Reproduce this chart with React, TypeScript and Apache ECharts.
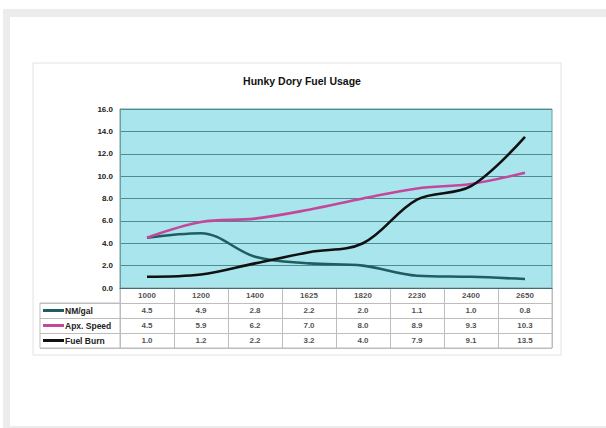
import React, { useEffect, useRef } from "react";
import * as echarts from "echarts";

const title = "Hunky Dory Fuel Usage";
const categories = ["1000", "1200", "1400", "1625", "1820", "2230", "2400", "2650"];
const seriesNames = ["NM/gal", "Apx. Speed", "Fuel Burn"];
const nmPerGal = [4.5, 4.9, 2.8, 2.2, 2.0, 1.1, 1.0, 0.8];
const apxSpeed = [4.5, 5.9, 6.2, 7.0, 8.0, 8.9, 9.3, 10.3];
const fuelBurn = [1.0, 1.2, 2.2, 3.2, 4.0, 7.9, 9.1, 13.5];
const yMin = 0;
const yMax = 16;
const yStep = 2;

const colors = ["#1f5d63", "#c5479b", "#111111"];
const FONT = "Arial, 'Liberation Sans', sans-serif";

export default function App() {
  const ref = useRef<HTMLDivElement>(null);
  useEffect(() => {
    if (!ref.current) return;
    const chart = echarts.init(ref.current, undefined, { renderer: "svg" });
    const allSeries = [nmPerGal, apxSpeed, fuelBurn];
    const tableData: any[] = [];
    categories.forEach((c, ci) => tableData.push([ci, 0, c]));
    allSeries.forEach((arr, si) =>
      arr.forEach((v, ci) => tableData.push([ci, si + 1, v.toFixed(1)]))
    );
    const rich: any = { t: { fontSize: 8.5, fontWeight: "bold", color: "#222", fontFamily: FONT, padding: [0, 0, 0, 1] } };
    colors.forEach((c, i) => {
      rich["k" + i] = { width: 21, height: 3, backgroundColor: c };
    });
    chart.setOption({
      animation: false,
      backgroundColor: "#ffffff",
      textStyle: { fontFamily: FONT },
      graphic: [
        { type: "rect", shape: { x: 3, y: 9, width: 603, height: 419 }, style: { fill: "#ececec" }, silent: true, z: -10 },
        { type: "rect", shape: { x: 10, y: 17, width: 596, height: 409 }, style: { fill: "#ffffff" }, silent: true, z: -9 },
        { type: "rect", shape: { x: 33, y: 63, width: 528, height: 292 }, style: { fill: "#ffffff", stroke: "#e2e2e2", lineWidth: 1 }, silent: true, z: -8 },
      ],
      title: {
        text: title,
        left: 297,
        top: 70,
        textAlign: "center",
        textStyle: { fontSize: 10.5, fontWeight: "bold", color: "#111", fontFamily: FONT },
      },
      grid: [
        { left: 120, right: 54, top: 109, height: 179, show: true, backgroundColor: "#a8e5ed", borderColor: "#6c9ea3", borderWidth: 1 },
        { left: 120, right: 54, top: 288, height: 60, show: true, backgroundColor: "#ffffff", borderColor: "#bdbdbd", borderWidth: 1 },
        { left: 40, width: 80, top: 303, height: 45, show: true, backgroundColor: "#ffffff", borderColor: "#bdbdbd", borderWidth: 1 },
      ],
      xAxis: [
        {
          gridIndex: 0, type: "category", data: categories, boundaryGap: true,
          axisLabel: { show: false }, axisTick: { show: false },
          axisLine: { show: true, lineStyle: { color: "#3f6f74", width: 1 } },
          splitLine: { show: false },
        },
        {
          gridIndex: 1, type: "category", data: categories, boundaryGap: true,
          axisLabel: { show: false }, axisTick: { show: false }, axisLine: { show: false },
          splitLine: { show: true, interval: 0, lineStyle: { color: "#bdbdbd", width: 1 } },
        },
        { gridIndex: 2, type: "category", data: ["k"], show: false },
      ],
      yAxis: [
        {
          gridIndex: 0, type: "value", min: yMin, max: yMax, interval: yStep,
          axisLabel: { formatter: (v: number) => v.toFixed(1), fontSize: 8, fontWeight: "bold", color: "#222", margin: 7, fontFamily: FONT },
          axisLine: { show: true, lineStyle: { color: "#6c9ea3" } },
          axisTick: { show: false },
          splitLine: { show: true, lineStyle: { color: "#4e8a90", width: 1 } },
        },
        {
          gridIndex: 1, type: "category", data: ["", ...seriesNames], inverse: true,
          axisLabel: { show: false }, axisTick: { show: false }, axisLine: { show: false },
          splitLine: { show: true, interval: 0, lineStyle: { color: "#bdbdbd", width: 1 } },
        },
        {
          gridIndex: 2, type: "category", data: seriesNames, inverse: true,
          axisTick: { show: false }, axisLine: { show: false },
          splitLine: { show: true, interval: 0, lineStyle: { color: "#bdbdbd", width: 1 } },
          axisLabel: {
            inside: true, margin: 3, interval: 0,
            formatter: (v: string, i: number) => `{k${i}|}{t|${v}}`,
            rich,
          },
        },
      ],
      series: [
        ...allSeries.map((arr, i) => ({
          name: seriesNames[i],
          type: "line",
          xAxisIndex: 0,
          yAxisIndex: 0,
          data: arr,
          smooth: 0.35,
          symbol: "none",
          lineStyle: { color: colors[i], width: 2.6 },
          z: 3 + i,
        })),
        {
          type: "scatter",
          xAxisIndex: 1,
          yAxisIndex: 1,
          symbolSize: 0,
          data: tableData,
          label: {
            show: true,
            position: "inside",
            formatter: (p: any) => p.data[2],
            fontSize: 8,
            fontWeight: "bold",
            color: "#222",
            fontFamily: FONT,
          },
        },
      ],
    });
    return () => chart.dispose();
  }, []);
  return <div ref={ref} style={{ position: "fixed", left: 0, top: 0, width: 606, height: 428 }} />;
}
